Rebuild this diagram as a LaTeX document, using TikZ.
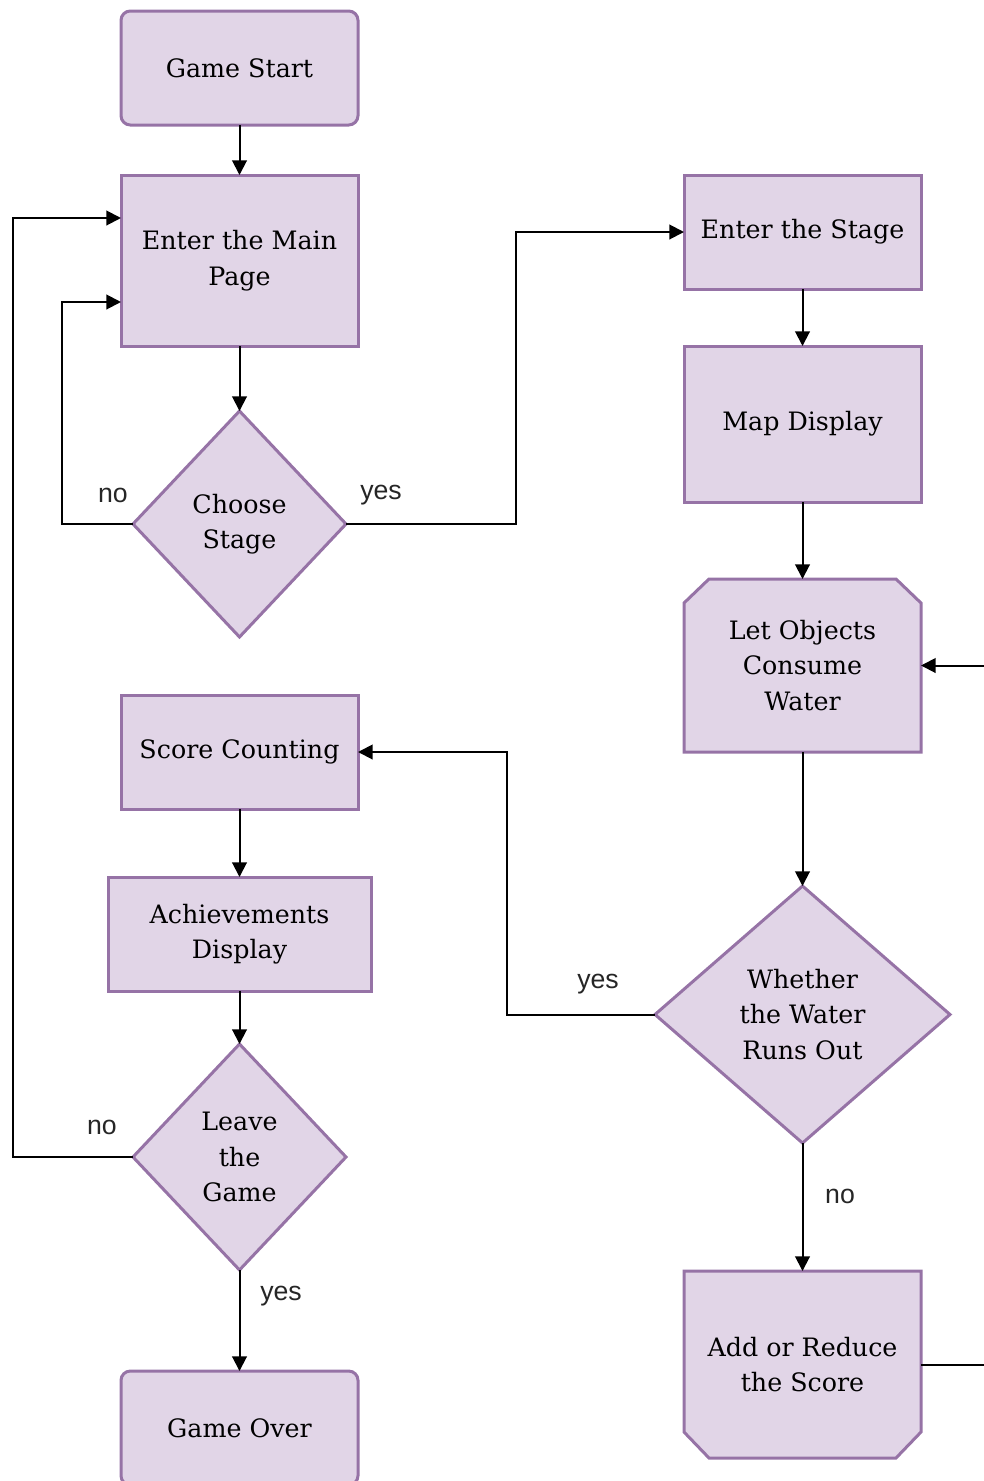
\documentclass[tikz,border=0pt]{standalone}
\usepackage{fontspec}
\setmainfont{DejaVu Serif}
\newfontfamily\labfont{Liberation Sans}
\usetikzlibrary{shapes.geometric,arrows.meta,backgrounds,calc}
\definecolor{pfill}{HTML}{E1D5E7}
\definecolor{pdraw}{HTML}{9673A6}
\begin{document}
\begin{tikzpicture}[x=0.75pt,y=-0.75pt,
  txt/.style={font=\fontsize{19}{26.6}\selectfont, align=center, text=black},
  box/.style={txt, draw=pdraw, fill=pfill, line width=2.25pt, inner sep=0pt, outer sep=0pt,
    minimum width=177.75pt, minimum height=85.5pt},
  rbox/.style={box, rounded corners=7pt},
  cbox/.style={txt, draw=none, inner sep=0pt, outer sep=0pt, minimum width=177.75pt},
  shapeline/.style={draw=pdraw, fill=pfill, line width=2.25pt, line join=miter},
  dec/.style={txt, diamond, draw=pdraw, fill=pfill, line width=2.25pt, inner sep=0pt, outer sep=0pt},
  arr/.style={draw=black, line width=1.5pt, -{Triangle[length=11pt,width=11pt]}},
  lab/.style={font=\labfont\fontsize{20}{24}\selectfont, text=black!85, inner sep=0pt}]
\useasboundingbox (0,0) rectangle (984,1481);

% left column
\node[rbox] (gs) at (239.5,68) {Game Start};
\node[box, minimum height=128.25pt] (mp) at (239.5,260.5) {Enter the Main\\Page};
\node[dec, minimum width=159.75pt, minimum height=169.5pt] (cs) at (239.5,524) {Choose\\Stage};
\node[box] (sc) at (239.5,752) {Score Counting};
\node[box, minimum width=197.25pt] (ad) at (239.5,934) {Achievements\\Display};
\node[dec, minimum width=159.75pt, minimum height=169.5pt] (lg) at (239.5,1157) {Leave\\the\\Game};
\node[rbox] (go) at (239.5,1428) {Game Over};

% right column
\node[box] (es) at (802.5,232) {Enter the Stage};
\node[box, minimum height=117pt] (md) at (802.5,424) {Map Display};
\node[cbox, minimum height=129.75pt] (lo) at (802.5,665.5) {Let Objects\\Consume\\Water};
\node[dec, minimum width=221.25pt, minimum height=192.75pt] (wr) at (802.5,1014.5) {Whether\\the Water\\Runs Out};
\node[cbox, minimum height=140.25pt] (ar) at (802.5,1364.5) {Add or Reduce\\the Score};

\begin{scope}[on background layer]
  \path[shapeline] ($(lo.north west)+(0,24)$) -- ($(lo.north west)+(25,0)$) -- ($(lo.north east)+(-25,0)$) -- ($(lo.north east)+(0,24)$) -- (lo.south east) -- (lo.south west) -- cycle;
  \path[shapeline] (ar.north west) -- (ar.north east) -- ($(ar.south east)+(0,-26)$) -- ($(ar.south east)+(-25,0)$) -- ($(ar.south west)+(25,0)$) -- ($(ar.south west)+(0,-26)$) -- cycle;
\end{scope}

% connectors
\draw[arr] (gs) -- (mp);
\draw[arr] (mp) -- (cs);
\draw[arr] (cs.west) -- ++(-71,0) |- ($(mp.west)+(0,41.5)$);
\draw[arr] (cs.east) -- ++(170,0) |- (es.west);
\draw[arr] (es) -- (md);
\draw[arr] (md) -- (lo);
\draw[arr] (lo) -- (wr);
\draw[arr] (wr.west) -- ++(-148,0) |- (sc.east);
\draw[arr] (wr) -- (ar);
\draw[arr] (ar.east) -- ++(90,0) |- (lo.east);
\draw[arr] (sc) -- (ad);
\draw[arr] (ad) -- (lg);
\draw[arr] (lg.west) -- ++(-120,0) |- ($(mp.west)+(0,-42.5)$);
\draw[arr] (lg) -- (go);

% labels
\node[lab] (l1) at (113,495) {no};
\node[lab] (l2) at (381,495) {yes};
\node[lab] (l3) at (598,984) {yes};
\node[lab] (l4) at (840,1196) {no};
\node[lab] (l5) at (102,1127) {no};
\node[lab] (l6) at (281,1296) {yes};
\end{tikzpicture}
\end{document}
